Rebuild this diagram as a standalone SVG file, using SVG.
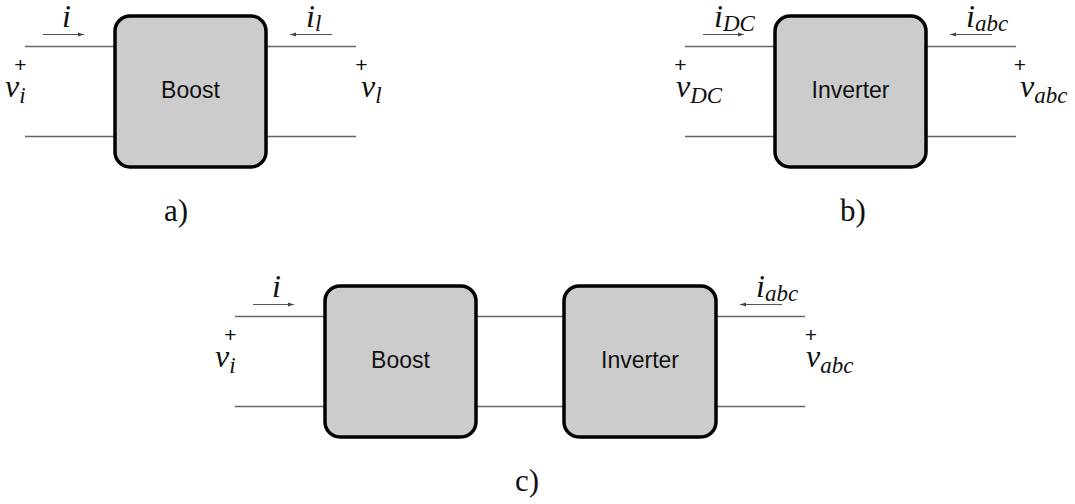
<svg xmlns="http://www.w3.org/2000/svg" width="1075" height="504" viewBox="0 0 1075 504">
<style>
.wire{stroke:#666;stroke-width:1.4;fill:none}
.arr{stroke:#555;stroke-width:1.1;fill:none}
.box{fill:#ccc;stroke:#000;stroke-width:3.5}
.lbl{font-family:"Liberation Sans",Arial,sans-serif;font-size:23px;text-anchor:middle;fill:#111}
.math{font-family:"Liberation Serif","Times New Roman",serif;font-style:italic;font-size:32px;fill:#111}
.sub{font-size:23px}
.plus{font-family:"Liberation Sans",Arial,sans-serif;font-size:21px;text-anchor:middle;fill:#111}
.cap{font-family:"Liberation Serif","Times New Roman",serif;font-size:31px;text-anchor:middle;fill:#111}
</style>
<defs>
<marker id="ah" viewBox="0 0 10 10" refX="10" refY="5" markerWidth="6" markerHeight="6" markerUnits="userSpaceOnUse" orient="auto">
<path d="M0,1.5 L10,5 L0,8.5 z" fill="#444"/>
</marker>
</defs>
<g id="connectors">
<!-- a -->
<line class="wire" x1="25" y1="46.5" x2="115" y2="46.5"/>
<line class="wire" x1="25" y1="136.5" x2="115" y2="136.5"/>
<line class="wire" x1="266" y1="46.5" x2="356" y2="46.5"/>
<line class="wire" x1="266" y1="136.5" x2="356" y2="136.5"/>
<line class="arr" x1="43" y1="34.5" x2="84" y2="34.5" marker-end="url(#ah)"/>
<line class="arr" x1="332" y1="34.5" x2="290" y2="34.5" marker-end="url(#ah)"/>
<!-- b -->
<line class="wire" x1="685" y1="46.5" x2="775" y2="46.5"/>
<line class="wire" x1="685" y1="136.5" x2="775" y2="136.5"/>
<line class="wire" x1="926" y1="46.5" x2="1016" y2="46.5"/>
<line class="wire" x1="926" y1="136.5" x2="1016" y2="136.5"/>
<line class="arr" x1="703" y1="34.5" x2="744" y2="34.5" marker-end="url(#ah)"/>
<line class="arr" x1="992" y1="34.5" x2="950" y2="34.5" marker-end="url(#ah)"/>
<!-- c -->
<line class="wire" x1="235" y1="316.5" x2="325" y2="316.5"/>
<line class="wire" x1="235" y1="406.5" x2="325" y2="406.5"/>
<line class="wire" x1="476" y1="316.5" x2="564" y2="316.5"/>
<line class="wire" x1="476" y1="406.5" x2="564" y2="406.5"/>
<line class="wire" x1="716" y1="316.5" x2="805" y2="316.5"/>
<line class="wire" x1="716" y1="406.5" x2="805" y2="406.5"/>
<line class="arr" x1="253" y1="304.5" x2="294" y2="304.5" marker-end="url(#ah)"/>
<line class="arr" x1="782" y1="304.5" x2="740" y2="304.5" marker-end="url(#ah)"/>
</g>
<g id="boost-a">
<rect class="box" x="115" y="16" width="151" height="151" rx="15"/>
<text class="lbl" x="190.5" y="98">Boost</text>
</g>
<g id="inverter-b">
<rect class="box" x="775" y="16" width="151" height="151" rx="15"/>
<text class="lbl" x="850.5" y="98">Inverter</text>
</g>
<g id="boost-c">
<rect class="box" x="325" y="286" width="151" height="151" rx="15"/>
<text class="lbl" x="400.5" y="368">Boost</text>
</g>
<g id="inverter-c">
<rect class="box" x="564" y="286" width="152" height="151" rx="15"/>
<text class="lbl" x="640" y="368">Inverter</text>
</g>
<g id="labels">
<text class="math" x="62" y="27">i</text>
<text class="math" x="306" y="27">i<tspan class="sub" dy="4">l</tspan></text>
<text class="plus" x="20.5" y="71.5">+</text>
<text class="math" x="5" y="97">v<tspan class="sub" dy="6">i</tspan></text>
<text class="plus" x="361.5" y="71.5">+</text>
<text class="math" x="361" y="97">v<tspan class="sub" dy="6">l</tspan></text>
<text class="cap" x="176" y="221">a)</text>

<text class="math" x="714" y="27">i<tspan class="sub" dy="4">DC</tspan></text>
<text class="math" x="966" y="27">i<tspan class="sub" dy="4">abc</tspan></text>
<text class="plus" x="680.5" y="71.5">+</text>
<text class="math" x="676" y="97">v<tspan class="sub" dy="6">DC</tspan></text>
<text class="plus" x="1020" y="71.5">+</text>
<text class="math" x="1020" y="97">v<tspan class="sub" dy="6">abc</tspan></text>
<text class="cap" x="853" y="221">b)</text>

<text class="math" x="272" y="297">i</text>
<text class="math" x="756" y="297">i<tspan class="sub" dy="4">abc</tspan></text>
<text class="plus" x="230.5" y="341.5">+</text>
<text class="math" x="215" y="367">v<tspan class="sub" dy="6">i</tspan></text>
<text class="plus" x="811" y="341.5">+</text>
<text class="math" x="806" y="367">v<tspan class="sub" dy="6">abc</tspan></text>
<text class="cap" x="527" y="491">c)</text>
</g>
</svg>
